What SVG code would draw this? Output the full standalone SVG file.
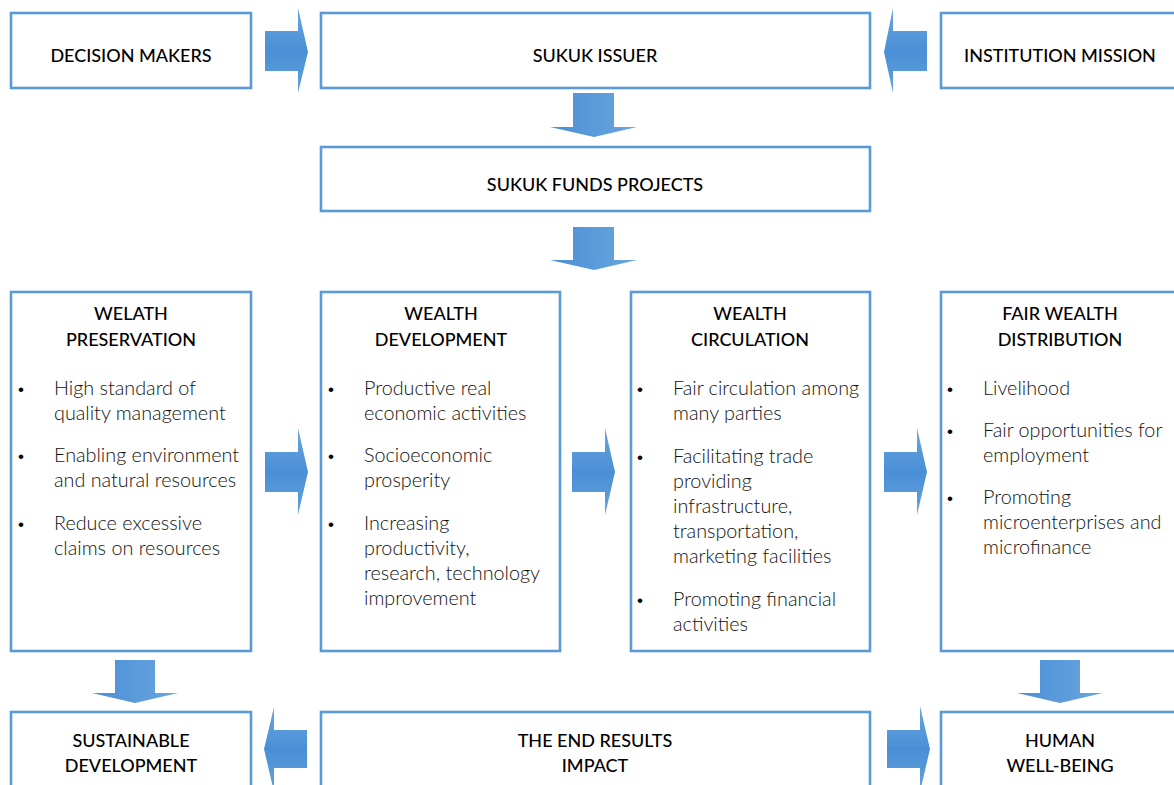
<svg xmlns="http://www.w3.org/2000/svg" width="1174" height="785" viewBox="0 0 1174 785">
<style>
.box{fill:#fff;stroke:#5B9BD5;stroke-width:2.6}
.t{font-family:Lato,"Open Sans","Liberation Sans",sans-serif;font-size:18px;fill:#000;text-anchor:middle;font-weight:500}
.b{font-family:Lato,"Open Sans","Liberation Sans",sans-serif;font-size:19.8px;fill:#111;font-weight:300}
.d{font-family:"Liberation Sans",sans-serif;font-size:17px;fill:#000}
.ah{fill:url(#gh)}
.av{fill:url(#gv)}
</style>
<defs>
<linearGradient id="gh" x1="0" y1="0" x2="0" y2="1"><stop offset="0" stop-color="#6AA6DE"/><stop offset="0.5" stop-color="#4A8FD6"/><stop offset="1" stop-color="#62A2DD"/></linearGradient>
<linearGradient id="gv" x1="0" y1="0" x2="1" y2="0"><stop offset="0" stop-color="#4A8FD6"/><stop offset="1" stop-color="#6AA6DE"/></linearGradient>
</defs>
<rect width="1174" height="785" fill="#fff"/>
<g id="decision-makers"><rect class="box" x="11" y="13" width="240" height="75"/><text class="t" x="131" y="62">DECISION MAKERS</text></g>
<g id="sukuk-issuer"><rect class="box" x="321" y="13" width="549" height="75"/><text class="t" x="595" y="62">SUKUK ISSUER</text></g>
<g id="institution-mission"><rect class="box" x="941" y="13" width="260" height="75"/><text class="t" x="1060" y="62">INSTITUTION MISSION</text></g>
<g id="sukuk-funds"><rect class="box" x="321" y="147" width="549" height="64"/><text class="t" x="595" y="191">SUKUK FUNDS PROJECTS</text></g>
<g id="wealth-preservation"><rect class="box" x="11" y="292" width="240" height="359"/>
<text class="t" x="131" y="320">WELATH</text><text class="t" x="131" y="346">PRESERVATION</text>
<text class="d" x="18" y="395">•</text><text class="b" x="54" y="395">High standard of</text><text class="b" x="54" y="420">quality management</text>
<text class="d" x="18" y="462">•</text><text class="b" x="54" y="462">Enabling environment</text><text class="b" x="54" y="487">and natural resources</text>
<text class="d" x="18" y="530">•</text><text class="b" x="54" y="530">Reduce excessive</text><text class="b" x="54" y="555">claims on resources</text>
</g>
<g id="wealth-development"><rect class="box" x="321" y="292" width="239" height="359"/>
<text class="t" x="441" y="320">WEALTH</text><text class="t" x="441" y="346">DEVELOPMENT</text>
<text class="d" x="328" y="395">•</text><text class="b" x="364" y="395">Productive real</text><text class="b" x="364" y="420">economic activities</text>
<text class="d" x="328" y="462">•</text><text class="b" x="364" y="462">Socioeconomic</text><text class="b" x="364" y="487">prosperity</text>
<text class="d" x="328" y="530">•</text><text class="b" x="364" y="530">Increasing</text><text class="b" x="364" y="555">productivity,</text><text class="b" x="364" y="580">research, technology</text><text class="b" x="364" y="605">improvement</text>
</g>
<g id="wealth-circulation"><rect class="box" x="631" y="292" width="239" height="359"/>
<text class="t" x="750" y="320">WEALTH</text><text class="t" x="750" y="346">CIRCULATION</text>
<text class="d" x="637" y="395">•</text><text class="b" x="673" y="395">Fair circulation among</text><text class="b" x="673" y="420">many parties</text>
<text class="d" x="637" y="463">•</text><text class="b" x="673" y="463">Facilitating trade</text><text class="b" x="673" y="488">providing</text><text class="b" x="673" y="513">infrastructure,</text><text class="b" x="673" y="538">transportation,</text><text class="b" x="673" y="563">marketing facilities</text>
<text class="d" x="637" y="606">•</text><text class="b" x="673" y="606">Promoting financial</text><text class="b" x="673" y="631">activities</text>
</g>
<g id="fair-wealth-distribution"><rect class="box" x="941" y="292" width="260" height="359"/>
<text class="t" x="1060" y="320">FAIR WEALTH</text><text class="t" x="1060" y="346">DISTRIBUTION</text>
<text class="d" x="947" y="395">•</text><text class="b" x="983" y="395">Livelihood</text>
<text class="d" x="947" y="437">•</text><text class="b" x="983" y="437">Fair opportunities for</text><text class="b" x="983" y="462">employment</text>
<text class="d" x="947" y="504">•</text><text class="b" x="983" y="504">Promoting</text><text class="b" x="983" y="529">microenterprises and</text><text class="b" x="983" y="554">microfinance</text>
</g>
<g id="sustainable-development"><rect class="box" x="11" y="712" width="240" height="90"/><text class="t" x="131" y="747">SUSTAINABLE</text><text class="t" x="131" y="772">DEVELOPMENT</text></g>
<g id="end-results"><rect class="box" x="321" y="712" width="549" height="90"/><text class="t" x="595" y="747">THE END RESULTS</text><text class="t" x="595" y="772">IMPACT</text></g>
<g id="human-well-being"><rect class="box" x="941" y="712" width="260" height="90"/><text class="t" x="1060" y="747">HUMAN</text><text class="t" x="1060" y="772">WELL-BEING</text></g>
<g id="connectors">
<polygon class="ah" points="265,31 298,31 298,8 308,52 298,93 298,71 265,71"/>
<polygon class="ah" points="927,31 893,31 893,8 884,52 893,93 893,71 927,71"/>
<polygon class="av" points="573,93 614,93 614,127 637,127 594,137 550,127 573,127"/>
<polygon class="av" points="573,227 614,227 614,260 637,260 594,270 550,260 573,260"/>
<polygon class="ah" points="265,452 298,452 298,428 308,472 298,515 298,492 265,492"/>
<polygon class="ah" points="572,452 605,452 605,428 615,472 605,515 605,492 572,492"/>
<polygon class="ah" points="884,452 917,452 917,428 927,472 917,515 917,492 884,492"/>
<polygon class="av" points="115,660 155,660 155,693 178,693 135,703 92,693 115,693"/>
<polygon class="av" points="1040,660 1080,660 1080,693 1103,693 1060,703 1017,693 1040,693"/>
<polygon class="ah" points="307,730 274,730 274,707 264,749 274,792 274,768 307,768"/>
<polygon class="ah" points="887,730 920,730 920,706 930,749 920,792 920,768 887,768"/>
</g>
</svg>
